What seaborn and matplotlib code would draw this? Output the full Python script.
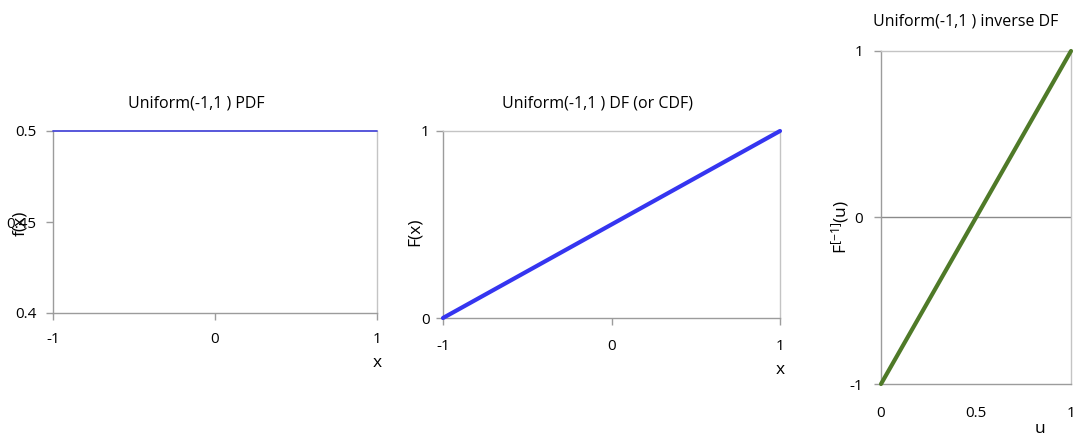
import numpy as np
import pandas as pd
import seaborn as sns
import matplotlib
matplotlib.use("Agg")
import matplotlib.pyplot as plt

# ---- data ----
pdf_x = [-1, 1]
pdf_y = [0.5, 0.5]
cdf_x = [-1, 1]
cdf_y = [0, 1]
inv_u = [0, 1]
inv_y = [-1, 1]

pdf_xticks = [-1, 0, 1]
pdf_yticks = [0.4, 0.45, 0.5]
pdf_yticklabels = ["0.4", "0.45", "0.5"]
cdf_xticks = [-1, 0, 1]
cdf_yticks = [0, 1]
inv_xticks = [0, 0.5, 1]
inv_xticklabels = ["0", "0.5", "1"]
inv_yticks = [-1, 0, 1]

titles = ["Uniform(-1,1 ) PDF", "Uniform(-1,1 ) DF (or CDF)", "Uniform(-1,1 ) inverse DF"]

sns.set_theme(style="white")
plt.rcParams['font.family'] = ['Open Sans', 'DejaVu Sans']
plt.rcParams['text.color'] = 'black'
plt.rcParams['mathtext.fontset'] = 'custom'
plt.rcParams['mathtext.rm'] = 'Open Sans'
plt.rcParams['mathtext.it'] = 'Open Sans'

W, H = 1074, 437
fig = plt.figure(figsize=(W / 100, H / 100), dpi=100)
fig.patch.set_facecolor("white")

def add_ax(l, r, t, b):
    return fig.add_axes([l / W, 1 - b / H, (r - l) / W, (b - t) / H])

AXC = "#9c9c9c"
BORDER = "#c4c4c4"
TXT = "#000000"
TICKFS = 11

def style(ax, ypad, xpad, bottom_ticks=True):
    for s in ["top", "right"]:
        ax.spines[s].set_color(BORDER)
        ax.spines[s].set_linewidth(1.0)
    for s in ["left", "bottom"]:
        ax.spines[s].set_color(AXC)
        ax.spines[s].set_linewidth(1.0)
    ax.tick_params(axis="y", which="both", left=True, length=5, width=1,
                   color=AXC, pad=ypad, labelsize=TICKFS, labelcolor=TXT, direction="out")
    ax.tick_params(axis="x", which="both", bottom=bottom_ticks, length=5, width=1,
                   color=AXC, pad=xpad, labelsize=TICKFS, labelcolor=TXT, direction="out")
    ax.set_xlabel("")
    ax.set_ylabel("")
    ax.grid(False)

def ftext(x, y, s, **kw):
    fig.text(x / W, 1 - y / H, s, ha="center", va="center", color=TXT, **kw)

# ---- panel 1: PDF ----
ax1 = add_ax(53, 377, 131, 313)
sns.lineplot(x=pdf_x, y=pdf_y, ax=ax1, color="#4a4ad8", linewidth=1.3, clip_on=False, zorder=5)
ax1.set_xlim(-1, 1)
ax1.set_ylim(0.4, 0.5)
ax1.set_xticks(pdf_xticks)
ax1.set_xticklabels([str(v) for v in pdf_xticks])
ax1.set_yticks(pdf_yticks)
ax1.set_yticklabels(pdf_yticklabels)
style(ax1, ypad=7, xpad=9)
ax1.spines["top"].set_visible(False)
ftext(196, 103, titles[0], fontsize=11.5)
ftext(377, 363, "x", fontsize=12.5)
ftext(20, 223, "f(x)", rotation=90, fontsize=12.5)

# ---- panel 2: CDF ----
ax2 = add_ax(443, 780, 131, 318)
sns.lineplot(x=cdf_x, y=cdf_y, ax=ax2, color="#3535f0", linewidth=3.0, clip_on=False, zorder=5)
ax2.set_xlim(-1, 1)
ax2.set_ylim(0, 1)
ax2.set_xticks(cdf_xticks)
ax2.set_xticklabels([str(v) for v in cdf_xticks])
ax2.set_yticks(cdf_yticks)
ax2.set_yticklabels([str(v) for v in cdf_yticks])
style(ax2, ypad=4.5, xpad=10)
ftext(597, 103, titles[1], fontsize=11.5)
ftext(780, 370, "x", fontsize=12.5)
ftext(415, 232, "F(x)", rotation=90, fontsize=12.5)

# ---- panel 3: inverse DF ----
ax3 = add_ax(881, 1071, 51, 384)
ax3.axhline(0, color="#8a8a8a", linewidth=1.0, zorder=1)
sns.lineplot(x=inv_u, y=inv_y, ax=ax3, color="#4f7a28", linewidth=3.0, zorder=5, clip_on=False)
ax3.set_xlim(0, 1)
ax3.set_ylim(-1, 1)
ax3.set_xticks(inv_xticks)
ax3.set_xticklabels(inv_xticklabels)
ax3.set_yticks(inv_yticks)
ax3.set_yticklabels([str(v) for v in inv_yticks])
style(ax3, ypad=8, xpad=11, bottom_ticks=False)
ftext(966, 21, titles[2], fontsize=11.5)
ftext(1040, 429, "u", fontsize=12.5)
ftext(840, 227, r"F$^{[-1]}$(u)", rotation=90, fontsize=12.5)

fig.savefig("out.png", dpi=100, facecolor="white")
